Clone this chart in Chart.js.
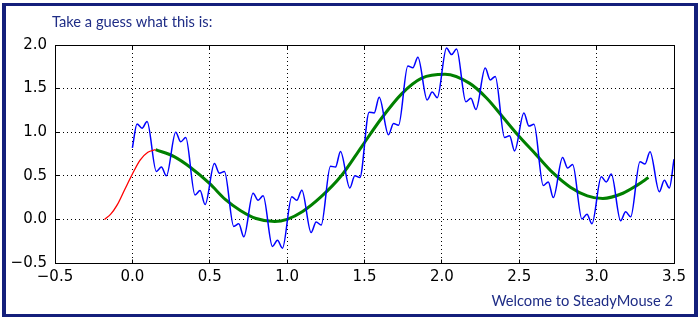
<!DOCTYPE html>
<html>
<head>
<meta charset="utf-8">
<script src="https://cdn.jsdelivr.net/npm/chart.js@4.4.0/dist/chart.umd.min.js"></script>
<style>
  html, body { margin: 0; padding: 0; background: #fff; }
  #wrap { position: relative; width: 700px; height: 320px; overflow: hidden; background: #fff; }
  #plot { position: absolute; left: 0; top: 0; }
  #frame {
    position: absolute; left: 2px; top: 3px; width: 688px; height: 308px;
    border: 3px solid #141f7b; border-left-width: 4px; border-right-width: 4px;
  }
  .cap { position: absolute; font-family: Lato, "Open Sans", sans-serif; font-size: 14.7px; color: #1f2d86; white-space: nowrap; line-height: 18px; }
  #capTop { left: 52px; top: 12px; }
  #capBottom { right: 27px; top: 291px; }
</style>
</head>
<body>
<div id="wrap">
  <canvas id="plot" width="700" height="320"></canvas>
  <div id="frame"></div>
  <div class="cap" id="capTop">Take a guess what this is:</div>
  <div class="cap" id="capBottom">Welcome to SteadyMouse 2</div>
</div>
<script>
// tick positions of the axes
const xTicks = [-0.5, 0, 0.5, 1, 1.5, 2, 2.5, 3, 3.5];
const yTicks = [-0.5, 0, 0.5, 1, 1.5, 2];

// red start-up curve
const redX = [-0.18, -0.14, -0.10, -0.05, 0.0, 0.05, 0.10, 0.15];
const redY = [0.0, 0.06, 0.16, 0.34, 0.52, 0.68, 0.77, 0.80];

// green smooth curve
const greenX = [0.15, 0.27, 0.38, 0.5, 0.6, 0.7, 0.8, 0.92, 1.0, 1.1, 1.22, 1.35, 1.48, 1.61, 1.74,
                1.87, 2.02, 2.18, 2.29, 2.4, 2.5, 2.61, 2.72, 2.83, 2.94, 3.04, 3.17, 3.26, 3.335];
const greenY = [0.80, 0.72, 0.59, 0.41, 0.23, 0.10, 0.01, -0.025, 0.0, 0.09, 0.26, 0.50, 0.83, 1.16, 1.44,
                1.62, 1.665, 1.56, 1.39, 1.16, 0.95, 0.74, 0.53, 0.37, 0.27, 0.24, 0.30, 0.39, 0.48];

// blue shaky curve (three turning points per plateau)
const blueX = [0,
  0.03, 0.0625, 0.095,   0.155, 0.1875, 0.22,   0.28, 0.3125, 0.345,   0.405, 0.4375, 0.47,
  0.53, 0.5625, 0.595,   0.655, 0.6875, 0.72,   0.78, 0.8125, 0.845,   0.905, 0.9375, 0.97,
  1.03, 1.0625, 1.095,   1.155, 1.1875, 1.22,   1.28, 1.3125, 1.345,   1.405, 1.4375, 1.47,
  1.53, 1.5625, 1.595,   1.655, 1.6875, 1.72,   1.78, 1.8125, 1.845,   1.905, 1.9375, 1.97,
  2.03, 2.0625, 2.095,   2.155, 2.1875, 2.22,   2.28, 2.3125, 2.345,   2.405, 2.4375, 2.47,
  2.53, 2.5625, 2.595,   2.655, 2.6875, 2.72,   2.78, 2.8125, 2.845,   2.905, 2.9375, 2.97,
  3.03, 3.0625, 3.095,   3.155, 3.1875, 3.22,   3.28, 3.3125, 3.345,   3.405, 3.4375, 3.47,
  3.5];
const blueY = [0.82,
  1.095, 1.046, 1.122,   0.55, 0.60, 0.50,      1.00, 0.89, 0.94,      0.28, 0.33, 0.17,
  0.64, 0.53, 0.55,      -0.08, -0.05, -0.20,   0.30, 0.22, 0.27,      -0.31, -0.24, -0.33,
  0.26, 0.22, 0.335,     -0.15, -0.03, -0.065,  0.61, 0.60, 0.78,      0.36, 0.50, 0.48,
  1.23, 1.22, 1.40,      0.97, 1.10, 1.08,      1.76, 1.74, 1.86,      1.37, 1.46, 1.395,
  1.965, 1.89, 1.955,    1.35, 1.39, 1.26,      1.735, 1.60, 1.64,     0.94, 0.96, 0.785,
  1.22, 1.07, 1.09,      0.39, 0.43, 0.25,      0.71, 0.59, 0.63,      0.005, 0.06, -0.05,
  0.49, 0.43, 0.52,      -0.016, 0.087, 0.03,   0.66, 0.635, 0.777,    0.317, 0.45, 0.36,
  0.69];

const pts = (xs, ys) => xs.map((v, i) => ({ x: v, y: ys[i] }));
const fmt = v => Number(v).toFixed(1).replace('-', '\u2212');

function align(p) {
  return Math.round(p - 0.5) + 0.5;
}

// box around the plot + inward tick marks
const frameTicks = {
  id: 'frameTicks',
  afterDraw(chart) {
    const { ctx, chartArea: a, scales: { x, y } } = chart;
    const L = align(a.left), R = align(a.right), T = align(a.top), B = align(a.bottom);
    ctx.save();
    ctx.strokeStyle = '#000';
    ctx.lineWidth = 1;
    ctx.setLineDash([]);
    ctx.beginPath();
    xTicks.forEach(v => {
      const px = align(x.getPixelForValue(v));
      ctx.moveTo(px, B); ctx.lineTo(px, B - 4);
      ctx.moveTo(px, T); ctx.lineTo(px, T + 4);
    });
    yTicks.forEach(v => {
      const py = align(y.getPixelForValue(v));
      ctx.moveTo(L, py); ctx.lineTo(L + 4, py);
      ctx.moveTo(R, py); ctx.lineTo(R - 4, py);
    });
    ctx.stroke();
    ctx.strokeRect(L, T, R - L, B - T);
    ctx.restore();
  }
};

const tickFont = { family: 'DejaVu Sans', size: 15 };

new Chart(document.getElementById('plot'), {
  type: 'line',
  data: {
    datasets: [
      {
        data: pts(redX, redY),
        borderColor: '#ff0000',
        borderWidth: 1.3,
        pointRadius: 0,
        cubicInterpolationMode: 'monotone'
      },
      {
        data: pts(blueX, blueY),
        borderColor: '#0000ff',
        borderWidth: 1.5,
        pointRadius: 0,
        cubicInterpolationMode: 'monotone'
      },
      {
        data: pts(greenX, greenY),
        borderColor: '#008000',
        borderWidth: 3,
        pointRadius: 0,
        cubicInterpolationMode: 'monotone'
      }
    ]
  },
  options: {
    responsive: false,
    animation: false,
    events: [],
    layout: { padding: { left: 0, top: 45, right: 26, bottom: 27 } },
    plugins: {
      legend: { display: false },
      tooltip: { enabled: false }
    },
    scales: {
      x: {
        type: 'linear',
        min: -0.5,
        max: 3.5,
        afterFit: s => { s.height = 30; },
        afterBuildTicks: s => { s.ticks = xTicks.map(v => ({ value: v })); },
        ticks: { callback: fmt, font: tickFont, color: '#000', padding: 5, maxRotation: 0, autoSkip: false },
        grid: { color: '#000', lineWidth: 1, drawTicks: false, borderDash: [1, 3] },
        border: { display: false, dash: [1, 3] }
      },
      y: {
        min: -0.5,
        max: 2.0,
        afterFit: s => { s.width = 55; },
        afterBuildTicks: s => { s.ticks = yTicks.map(v => ({ value: v })); },
        ticks: { callback: fmt, font: tickFont, color: '#000', padding: 8, autoSkip: false },
        grid: { color: '#000', lineWidth: 1, drawTicks: false, borderDash: [1, 3] },
        border: { display: false, dash: [1, 3] }
      }
    }
  },
  plugins: [frameTicks]
});
</script>
</body>
</html>
